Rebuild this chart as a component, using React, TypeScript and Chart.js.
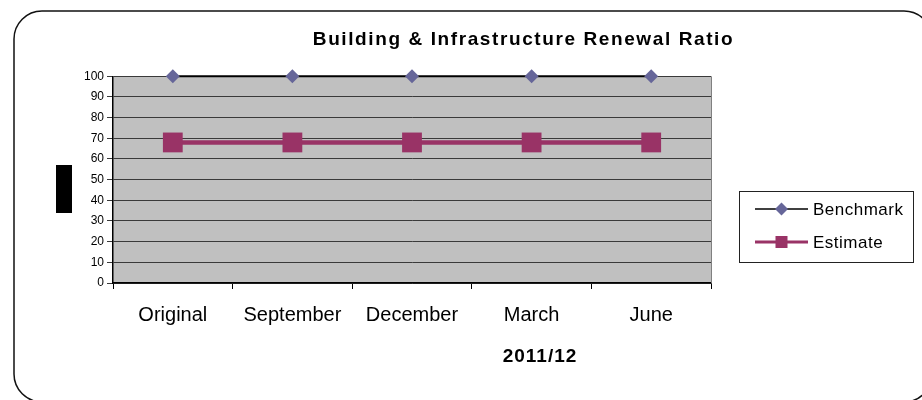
import React, { useEffect, useRef } from 'react';
import { Chart, registerables } from 'chart.js';

Chart.register(...registerables);

const categories: string[] = ['Original', 'September', 'December', 'March', 'June'];
const benchmarkValues: number[] = [100, 100, 100, 100, 100];
const estimateValues: number[] = [68, 68, 68, 68, 68];
const seriesLabels: string[] = ['Benchmark', 'Estimate'];
const yMin = 0;
const yMax = 100;
const yStep = 10;
const chartTitle = 'Building & Infrastructure Renewal Ratio';
const xAxisTitle = '2011/12';

const FONT = '"Liberation Sans", Arial, Helvetica, sans-serif';

const decorPlugin = {
  id: 'decor',
  afterLayout(chart: any) {
    const tb = chart.titleBlock;
    if (tb) {
      tb.left = 0;
      tb.right = 1047;
      if (!tb.__wrapped) {
        const orig = tb.draw.bind(tb);
        tb.draw = (...args: any[]) => {
          const ctx = chart.ctx as any;
          const prev = ctx.letterSpacing;
          ctx.letterSpacing = '1.6px';
          orig(...args);
          ctx.letterSpacing = prev || '0px';
        };
        tb.__wrapped = true;
      }
    }
  },
  beforeDraw(chart: any) {
    const { ctx, chartArea: a } = chart;
    ctx.save();
    ctx.fillStyle = '#ffffff';
    ctx.fillRect(0, 0, chart.width, chart.height);
    ctx.fillStyle = '#C0C0C0';
    ctx.fillRect(a.left, a.top, a.right - a.left, a.bottom - a.top);
    ctx.strokeStyle = '#111111';
    ctx.lineWidth = 1.5;
    ctx.beginPath();
    ctx.roundRect(14, 11, 918, 391, 28);
    ctx.stroke();
    ctx.fillStyle = '#000000';
    ctx.fillRect(56, 165, 16, 48);
    ctx.restore();
  },
  beforeDatasetsDraw(chart: any) {
    const { ctx, chartArea: a } = chart;
    ctx.save();
    ctx.strokeStyle = '#808080';
    ctx.lineWidth = 1;
    ctx.beginPath();
    ctx.moveTo(a.right + 0.5, a.top);
    ctx.lineTo(a.right + 0.5, a.bottom);
    ctx.stroke();
    ctx.restore();
  },
  afterDraw(chart: any) {
    const ctx = chart.ctx as any;
    ctx.save();
    // x axis title
    ctx.font = `bold 19px ${FONT}`;
    ctx.fillStyle = '#000';
    ctx.textAlign = 'center';
    ctx.textBaseline = 'middle';
    ctx.letterSpacing = '1px';
    ctx.fillText(xAxisTitle, 540, 357);
    ctx.letterSpacing = '0px';
    // legend
    ctx.strokeStyle = '#222';
    ctx.lineWidth = 1;
    ctx.strokeRect(739.5, 191.5, 174, 71);
    chart.data.datasets.forEach((ds: any, i: number) => {
      const y = 209 + i * 33;
      ctx.strokeStyle = ds.borderColor;
      ctx.lineWidth = i === 0 ? 1.5 : 3;
      ctx.beginPath();
      ctx.moveTo(755, y);
      ctx.lineTo(808, y);
      ctx.stroke();
      ctx.fillStyle = ds.pointBackgroundColor;
      const cx = 781.5;
      if (ds.pointStyle === 'rectRot') {
        const r = 6.5;
        ctx.beginPath();
        ctx.moveTo(cx, y - r);
        ctx.lineTo(cx + r, y);
        ctx.lineTo(cx, y + r);
        ctx.lineTo(cx - r, y);
        ctx.closePath();
        ctx.fill();
      } else {
        ctx.fillRect(cx - 6, y - 6, 12, 12);
      }
      ctx.fillStyle = '#000';
      ctx.font = `17px ${FONT}`;
      ctx.textAlign = 'left';
      ctx.textBaseline = 'middle';
      ctx.letterSpacing = '0.5px';
      ctx.fillText(ds.label, 813, y + 1);
      ctx.letterSpacing = '0px';
    });
    ctx.restore();
  },
};

export default function App() {
  const ref = useRef<HTMLCanvasElement | null>(null);

  useEffect(() => {
    if (!ref.current) return;
    const chart = new Chart(ref.current, {
      type: 'line',
      data: {
        labels: categories,
        datasets: [
          {
            label: seriesLabels[0],
            data: benchmarkValues,
            borderColor: '#000000',
            borderWidth: 2,
            pointStyle: 'rectRot',
            pointRadius: 7,
            pointBackgroundColor: '#666699',
            pointBorderColor: '#666699',
            pointBorderWidth: 0,
            clip: false,
            order: 1,
          } as any,
          {
            label: seriesLabels[1],
            data: estimateValues,
            borderColor: '#993366',
            borderWidth: 4.5,
            pointStyle: 'rect',
            pointRadius: 14,
            pointBackgroundColor: '#993366',
            pointBorderColor: '#993366',
            pointBorderWidth: 0,
            clip: false,
            order: 0,
          } as any,
        ],
      },
      options: {
        responsive: false,
        animation: false,
        events: [],
        layout: { padding: { left: 0, right: 211, top: 0, bottom: 0 } },
        plugins: {
          legend: { display: false },
          tooltip: { enabled: false },
          title: {
            display: true,
            text: chartTitle,
            color: '#000',
            font: { family: FONT, size: 19, weight: 'bold' },
            padding: { top: 28, bottom: 25.5 },
          },
        },
        scales: {
          x: {
            offset: true,
            grid: {
              offset: true,
              drawOnChartArea: false,
              drawTicks: true,
              tickLength: 6,
              color: '#000',
            },
            border: { color: '#000', width: 1.5 },
            ticks: { color: '#000', font: { family: FONT, size: 20 }, padding: 14, maxRotation: 0 },
            afterFit: (s: any) => {
              s.height = 117;
            },
          },
          y: {
            min: yMin,
            max: yMax,
            grid: { color: '#3a3a3a', tickLength: 6, lineWidth: 1 },
            border: { color: '#000', width: 1.5 },
            ticks: { stepSize: yStep, color: '#000', font: { family: FONT, size: 12 }, padding: 3 },
            afterFit: (s: any) => {
              s.width = 113;
            },
          },
        },
      },
      plugins: [decorPlugin],
    });
    return () => chart.destroy();
  }, []);

  return (
    <div style={{ position: 'absolute', left: 0, top: 0, width: 922, height: 400 }}>
      <canvas ref={ref} width={922} height={400} />
    </div>
  );
}
